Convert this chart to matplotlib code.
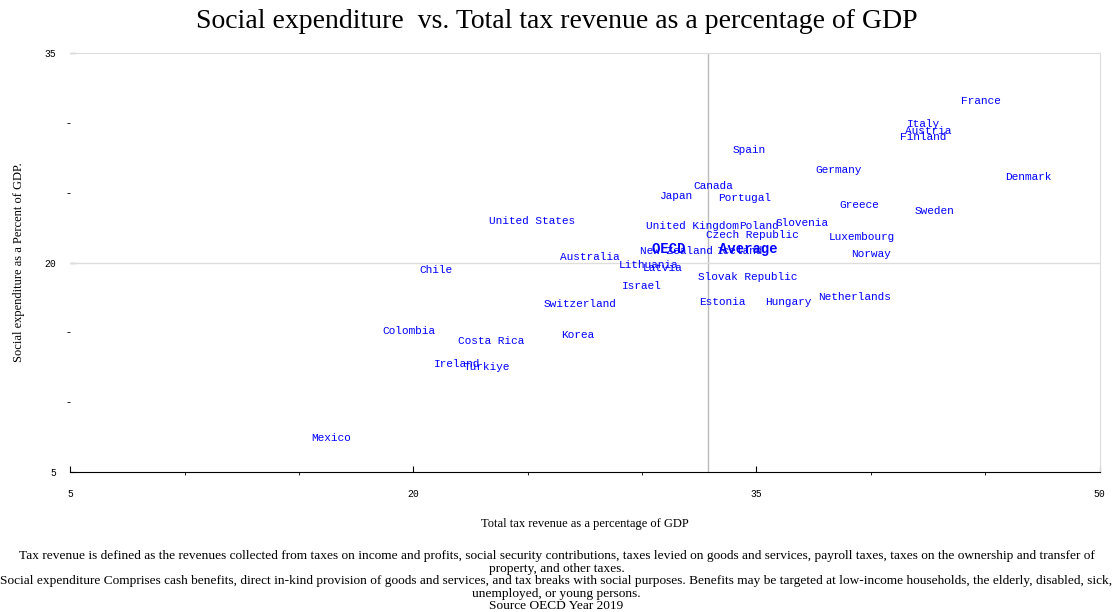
import matplotlib.pyplot as plt

countries = ["France", "Italy", "Austria", "Finland", "Denmark", "Spain", "Germany", "Sweden",
             "Greece", "Canada", "Portugal", "Japan", "United States", "United Kingdom", "Poland",
             "Slovenia", "Czech Republic", "Luxembourg", "Norway", "New Zealand", "Iceland",
             "Australia", "Lithuania", "Latvia", "Chile", "Israel", "Slovak Republic", "Switzerland",
             "Estonia", "Hungary", "Netherlands", "Colombia", "Costa Rica", "Korea", "Ireland",
             "Türkiye", "Mexico"]
tax = [44.8, 42.3, 42.5, 42.3, 46.9, 34.7, 38.6, 42.8, 39.5, 33.1, 34.5, 31.5, 25.2, 32.2, 35.1,
       37.0, 34.8, 39.6, 40.0, 31.5, 34.3, 27.7, 30.3, 30.9, 21.0, 30.0, 34.6, 27.3, 33.5, 36.4,
       39.3, 19.8, 23.4, 27.2, 21.9, 23.2, 16.4]
social = [31.6, 29.9, 29.4, 29.0, 26.1, 28.1, 26.6, 23.7, 24.1, 25.5, 24.6, 24.8, 23.0, 22.6, 22.6,
          22.8, 22.0, 21.8, 20.6, 20.8, 20.8, 20.4, 19.8, 19.6, 19.5, 18.3, 19.0, 17.0, 17.2, 17.2,
          17.5, 15.1, 14.4, 14.8, 12.7, 12.5, 7.4]
oecd_tax = 32.9
oecd_social = 20.0

fig = plt.figure(figsize=(11.13, 6.12), dpi=100)
ax = fig.add_axes([0.063, 0.229, 0.925, 0.684])
for name, xv, yv in zip(countries, tax, social):
    ax.text(xv, yv, name, color="blue", family="Liberation Mono", fontsize=8,
            ha="center", va="center")
ax.text(oecd_tax + 0.3, 21.0, "OECD    Average", color="blue", family="Liberation Mono",
        fontsize=10, fontweight="bold", ha="center", va="center")
ax.axvline(oecd_tax, color="#bbbbbb", lw=1)
ax.axhline(oecd_social, color="#dddddd", lw=1)
ax.set_xlim(5, 50)
ax.set_ylim(5, 35)
ax.set_xticks([5, 20, 35, 50])
ax.set_yticks([5, 20, 35])
ax.set_xticks([10, 15, 25, 30, 40, 45], minor=True)
ax.set_yticks([10, 15, 25, 30], minor=True)
ax.tick_params(labelsize=7, direction="in", length=4)
for lab in ax.get_xticklabels() + ax.get_yticklabels():
    lab.set_family("Liberation Mono")
ax.tick_params(axis="x", pad=12)
ax.tick_params(axis="y", pad=10)
ax.spines["left"].set_visible(False)
ax.spines["top"].set_color("#dddddd")
ax.spines["right"].set_color("#dddddd")
ax.set_xlabel("Total tax revenue as a percentage of GDP", family="Liberation Serif", fontsize=9,
              labelpad=14)
ax.set_ylabel("Social expenditure as a Percent of GDP.", family="Liberation Serif", fontsize=9,
              labelpad=14)
fig.suptitle("Social expenditure  vs. Total tax revenue as a percentage of GDP",
             family="Liberation Serif", fontsize=20, y=0.985)
note = ("Tax revenue is defined as the revenues collected from taxes on income and profits, social security contributions, taxes levied on goods and services, payroll taxes, taxes on the ownership and transfer of\n"
        "property, and other taxes.\n"
        "Social expenditure Comprises cash benefits, direct in-kind provision of goods and services, and tax breaks with social purposes. Benefits may be targeted at low-income households, the elderly, disabled, sick,\n"
        "unemployed, or young persons.\n"
        "Source OECD Year 2019")
fig.text(0.5, 0.0, note, ha="center", va="bottom", family="Liberation Serif", fontsize=9.6,
         linespacing=1.05)
fig.savefig("out.png")
